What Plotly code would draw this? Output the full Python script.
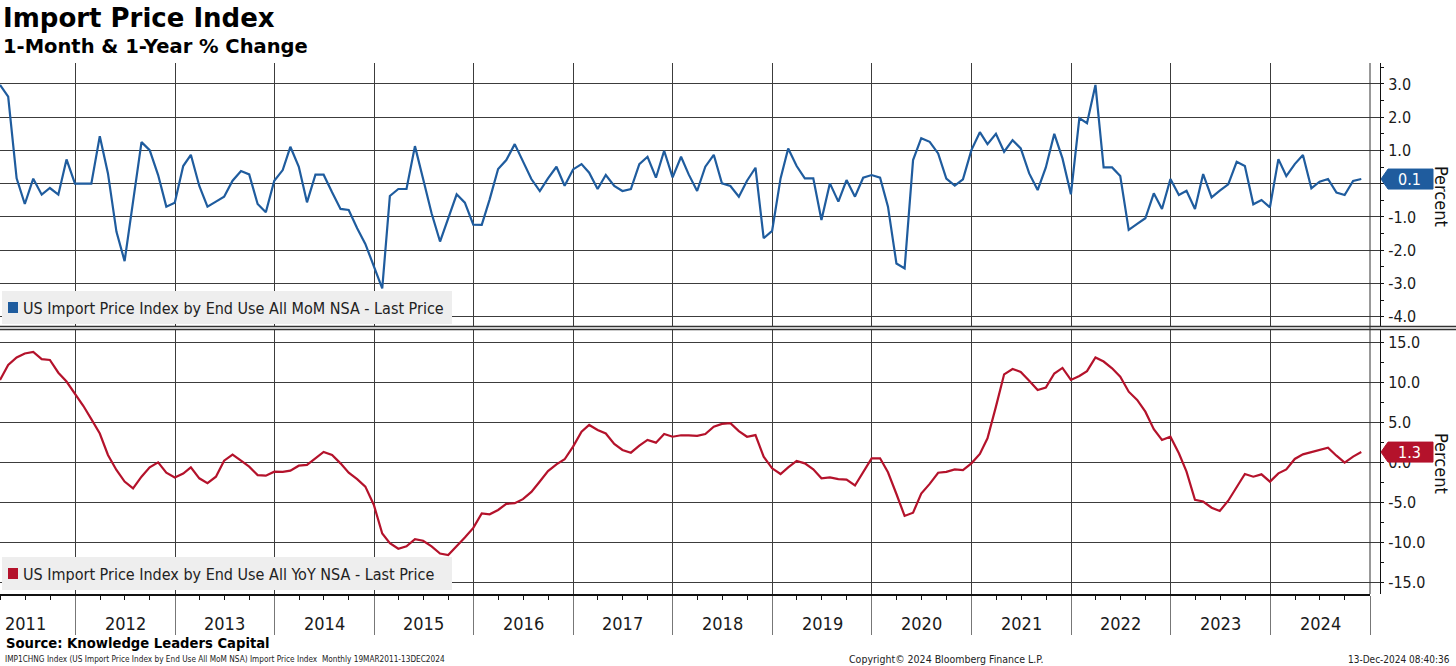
import plotly.graph_objects as go
import pandas as pd

# ---------------- data ----------------
start_month = "2011-03-01"
n_months = 165  # Mar 2011 .. Nov 2024, plotted at month end

mom = [2.97, 2.62, 0.16, -0.61, 0.15, -0.33, -0.13, -0.33, 0.73, 0.00,
       0.00, 0.00, 1.43, 0.31, -1.44, -2.33, -0.54, 1.25, 1.01, 0.26, -0.69, -0.57,
       0.53, 0.87, -0.07, -0.69, -0.54, -0.39, 0.09, 0.38, 0.28, -0.61, -0.86, 0.09,
       0.41, 1.11, 0.51, -0.56, 0.27, 0.27, -0.26, -0.76, -0.79, -1.34, -1.81, -2.48,
       -3.15, -0.37, -0.16, -0.16, 1.13, 0.14, -0.89, -1.74, -1.03, -0.32, -0.57, -1.23,
       -1.24, -0.47, 0.44, 0.71, 1.19, 0.66, 0.14, -0.22, 0.16, 0.51, -0.06, 0.43,
       0.59, 0.33, -0.16, 0.26, -0.07, -0.22, -0.16, 0.59, 0.81, 0.18, 0.99, 0.19,
       0.81, 0.28, -0.22, 0.51, 0.87, 0.01, -0.07, -0.39, 0.09, 0.48, -1.64, -1.42,
       0.16, 1.06, 0.53, 0.16, 0.16, -1.09, 0.01, -0.54, 0.11, -0.39, 0.18, 0.26,
       0.18, -0.69, -2.40, -2.55, 0.71, 1.37, 1.26, 0.91, 0.15, -0.06, 0.13, 1.01,
       1.55, 1.19, 1.50, 0.96, 1.31, 1.06, 0.31, -0.19, 0.49, 1.50, 0.76, -0.32,
       1.97, 1.82, 2.97, 0.49, 0.49, 0.23, -1.39, -1.21, -1.04, -0.29, -0.76, 0.14,
       -0.34, -0.21, -0.76, 0.29, -0.41, -0.21, -0.02, 0.66, 0.53, -0.62, -0.49, -0.71,
       0.74, 0.23, 0.59, 0.86, -0.14, 0.06, 0.14, -0.27, -0.34, 0.08, 0.14]

yoy = [10.29, 12.17, 13.10, 13.60, 13.80, 12.90, 12.80, 11.20, 10.10, 8.54,
       7.04, 5.40, 3.60, 0.92, -0.96, -2.40, -3.25, -1.80, -0.63, 0.00, -1.30, -1.90,
       -1.40, -0.63, -2.00, -2.60, -1.80, 0.20, 0.96, 0.20, -0.54, -1.60, -1.67, -1.17,
       -1.20, -1.04, -0.42, -0.33, 0.50, 1.30, 0.92, -0.13, -1.30, -2.10, -3.04, -5.30,
       -8.90, -10.10, -10.80, -10.50, -9.60, -9.80, -10.50, -11.40, -11.60, -10.50, -9.40, -8.20,
       -6.40, -6.50, -5.96, -5.20, -5.10, -4.60, -3.70, -2.40, -1.10, -0.25, 0.38, 1.96,
       3.83, 4.67, 4.04, 3.60, 2.30, 1.54, 1.20, 2.08, 2.80, 2.46, 3.54, 3.20,
       3.38, 3.38, 3.30, 3.54, 4.46, 4.80, 4.90, 3.90, 3.20, 3.40, 0.70, -0.75,
       -1.46, -0.63, 0.17, -0.13, -0.88, -2.00, -1.88, -2.10, -2.17, -2.90, -1.17, 0.50,
       0.50, -1.25, -3.96, -6.70, -6.30, -3.90, -2.70, -1.30, -1.20, -0.88, -0.96, -0.13,
       1.04, 3.00, 6.96, 11.00, 11.67, 11.30, 10.20, 9.04, 9.33, 11.10, 11.80, 10.30,
       10.80, 11.40, 13.10, 12.60, 11.75, 10.70, 8.83, 7.80, 6.33, 4.13, 2.80, 3.20,
       1.13, -1.17, -4.70, -4.90, -5.67, -6.08, -4.80, -3.04, -1.46, -1.80, -1.50, -2.42,
       -1.38, -0.88, 0.42, 1.00, 1.25, 1.54, 1.83, 0.83, -0.04, 0.71, 1.28]

years = list(range(2011, 2025))
upper_ticks = [3, 2, 1, 0, -1, -2, -3, -4]
lower_ticks = [15, 10, 5, 0, -5, -10, -15]

title = "Import Price Index"
subtitle = "1-Month & 1-Year % Change"
mom_name = "US Import Price Index by End Use All MoM NSA - Last Price"
yoy_name = "US Import Price Index by End Use All YoY NSA - Last Price"
source_txt = "Source: Knowledge Leaders Capital"
info_txt = "IMP1CHNG Index (US Import Price Index by End Use All MoM NSA) Import Price Index  Monthly 19MAR2011-13DEC2024"
copy_txt = "Copyright\u00a9 2024 Bloomberg Finance L.P."
stamp_txt = "13-Dec-2024 08:40:36"

# ---------------- styling / geometry ----------------
W, H = 1456, 666
BLUE = "#1f5c9e"
RED = "#b4122b"
GRID = "#3c3c3c"
TXT = "#1a1a1a"
TICKFONT = "Tahoma, 'DejaVu Sans Condensed', 'DejaVu Sans', sans-serif"
BOLDFONT = "Verdana, 'DejaVu Sans', sans-serif"

PLOT_R = 1370
AX_X = 1380
UP_T, UP_B = 63, 326
LO_T, LO_B = 330, 594
UP_RANGE = [-4.28, 3.63]
LO_RANGE = [-16.46, 16.54]


def px(x):
    return x / W


def py(y):
    return 1 - y / H


dates = pd.date_range(start_month, periods=n_months, freq="MS") + pd.offsets.MonthEnd(0)
x_range = ["2011-03-31", "2025-01-01"]
year_starts = [f"{y}-01-01" for y in range(2012, 2026)]
year_mid = [f"{y}-07-02" for y in years]


def fmt(v):
    return f"{v:.1f}".replace("\u2212", "-")


fig = go.Figure()
fig.add_trace(go.Scatter(x=dates, y=mom, mode="lines", line=dict(color=BLUE, width=2.2),
                         xaxis="x", yaxis="y", showlegend=False, hoverinfo="skip"))
fig.add_trace(go.Scatter(x=dates, y=yoy, mode="lines", line=dict(color=RED, width=2.2),
                         xaxis="x2", yaxis="y2", showlegend=False, hoverinfo="skip"))

xcommon = dict(range=x_range, type="date", tickvals=year_starts, showgrid=True,
               gridcolor=GRID, gridwidth=1, zeroline=False, showticklabels=False)

yaxis_common = dict(anchor="free", position=px(AX_X), side="right", showline=True,
                    linecolor="#111", linewidth=1, ticks="inside", ticklen=10, tickcolor=GRID,
                    showgrid=True, gridcolor=GRID, gridwidth=1, zeroline=False,
                    tickfont=dict(family=TICKFONT, size=16, color=TXT), ticklabelstandoff=4)

# the upper 0.0 label sits fully under the last-value tag in the reference
upper_text = ["" if v == 0 else fmt(v) for v in upper_ticks]

fig.update_layout(
    width=W, height=H, autosize=False,
    margin=dict(l=0, r=0, t=0, b=0),
    paper_bgcolor="white", plot_bgcolor="white",
    xaxis=dict(domain=[0, px(PLOT_R)], anchor="y", ticks="", **xcommon),
    xaxis2=dict(domain=[0, px(PLOT_R)], anchor="y2", matches="x",
                ticks="outside", ticklen=39, tickcolor="#777", tickwidth=1,
                showline=True, linecolor="#111", linewidth=1.5,
                minor=dict(ticks="outside", ticklen=4, dtick="M3", tick0="2011-01-01",
                           tickcolor="#111", showgrid=False),
                **xcommon),
    yaxis=dict(domain=[py(UP_B), py(UP_T)], range=UP_RANGE, tickvals=upper_ticks,
               ticktext=upper_text,
               minor=dict(ticks="outside", ticklen=3, dtick=0.5, tickcolor="#111", showgrid=False),
               **yaxis_common),
    yaxis2=dict(domain=[py(LO_B), py(LO_T)], range=LO_RANGE, tickvals=lower_ticks,
                ticktext=[fmt(v) for v in lower_ticks],
                minor=dict(ticks="outside", ticklen=3, dtick=2.5, tickcolor="#111", showgrid=False),
                **yaxis_common),
)

shapes = []
# panel separator (double line)
for yy in (326.5, 329.5):
    shapes.append(dict(type="line", xref="paper", yref="paper", x0=0, x1=1, y0=py(yy), y1=py(yy),
                       line=dict(color="#333", width=1.6)))
# right border of plot area
shapes.append(dict(type="line", xref="paper", yref="paper", x0=px(PLOT_R), x1=px(PLOT_R),
                   y0=py(UP_T), y1=py(LO_B), line=dict(color="#333", width=1)))


# legend boxes
def legend_box(top, color, text):
    shapes.append(dict(type="rect", xref="paper", yref="paper", x0=px(2), x1=px(452),
                       y0=py(top + 33), y1=py(top), fillcolor="#eeeeee", line=dict(width=0),
                       layer="above"))
    shapes.append(dict(type="rect", xref="paper", yref="paper", x0=px(8), x1=px(18),
                       y0=py(top + 22), y1=py(top + 11), fillcolor=color, line=dict(width=0),
                       layer="above"))
    fig.add_annotation(x=px(21), y=py(top + 17), xref="paper", yref="paper", text=text,
                       showarrow=False, xanchor="left", yanchor="middle",
                       font=dict(family=TICKFONT, size=16, color="#222"))


legend_box(291, BLUE, mom_name)
legend_box(557, RED, yoy_name)


# last value tags
def tag(last, yref, unit_px, color):
    hh = 10.0 / unit_px
    x_tip, x_b, x_r = px(AX_X + 1), px(AX_X + 8), px(1433)
    path = (f"M {x_tip} {last} L {x_b} {last + hh} L {x_r} {last + hh} "
            f"L {x_r} {last - hh} L {x_b} {last - hh} Z")
    shapes.append(dict(type="path", xref="paper", yref=yref, path=path, fillcolor=color,
                       line=dict(color=color, width=1), layer="above"))
    fig.add_annotation(x=px(1409), y=last, xref="paper", yref=yref, text=fmt(last),
                       showarrow=False, xanchor="center", yanchor="middle",
                       font=dict(family=TICKFONT, size=16, color="white"))


tag(mom[-1], "y", (UP_B - UP_T) / (UP_RANGE[1] - UP_RANGE[0]), BLUE)
tag(yoy[-1], "y2", (LO_B - LO_T) / (LO_RANGE[1] - LO_RANGE[0]), RED)

fig.update_layout(shapes=shapes)

# "Percent" labels
for yc in (196, 463):
    fig.add_annotation(x=px(1442), y=py(yc), xref="paper", yref="paper", text="Percent",
                       showarrow=False, textangle=90, xanchor="center", yanchor="middle",
                       font=dict(family=TICKFONT, size=18, color="#111"))

# year labels
for yr, xm in zip(years, year_mid):
    fig.add_annotation(x=xm, y=py(623), xref="x2", yref="paper", text=str(yr), showarrow=False,
                       xanchor="center", yanchor="middle",
                       font=dict(family=TICKFONT, size=18, color=TXT))

# titles
fig.add_annotation(x=px(1), y=py(18), xref="paper", yref="paper", text=f"<b>{title}</b>",
                   showarrow=False, xanchor="left", yanchor="middle",
                   font=dict(family=BOLDFONT, size=26, color="#000"))
fig.add_annotation(x=px(1), y=py(46), xref="paper", yref="paper", text=f"<b>{subtitle}</b>",
                   showarrow=False, xanchor="left", yanchor="middle",
                   font=dict(family=BOLDFONT, size=19.5, color="#000"))

# footer
fig.add_annotation(x=px(4), y=py(643), xref="paper", yref="paper", text=f"<b>{source_txt}</b>",
                   showarrow=False, xanchor="left", yanchor="middle",
                   font=dict(family=BOLDFONT, size=13.2, color="#000"))
fig.add_annotation(x=px(3), y=py(659), xref="paper", yref="paper", text=info_txt,
                   showarrow=False, xanchor="left", yanchor="middle",
                   font=dict(family=TICKFONT, size=8.2, color="#222"))
fig.add_annotation(x=px(946), y=py(659), xref="paper", yref="paper", text=copy_txt,
                   showarrow=False, xanchor="center", yanchor="middle",
                   font=dict(family=TICKFONT, size=10.5, color="#222"))
fig.add_annotation(x=px(1452), y=py(659), xref="paper", yref="paper", text=stamp_txt,
                   showarrow=False, xanchor="right", yanchor="middle",
                   font=dict(family=TICKFONT, size=10, color="#222"))

fig.write_html("out.html", config={"displayModeBar": False},
               post_script="document.body.style.margin='0';")
